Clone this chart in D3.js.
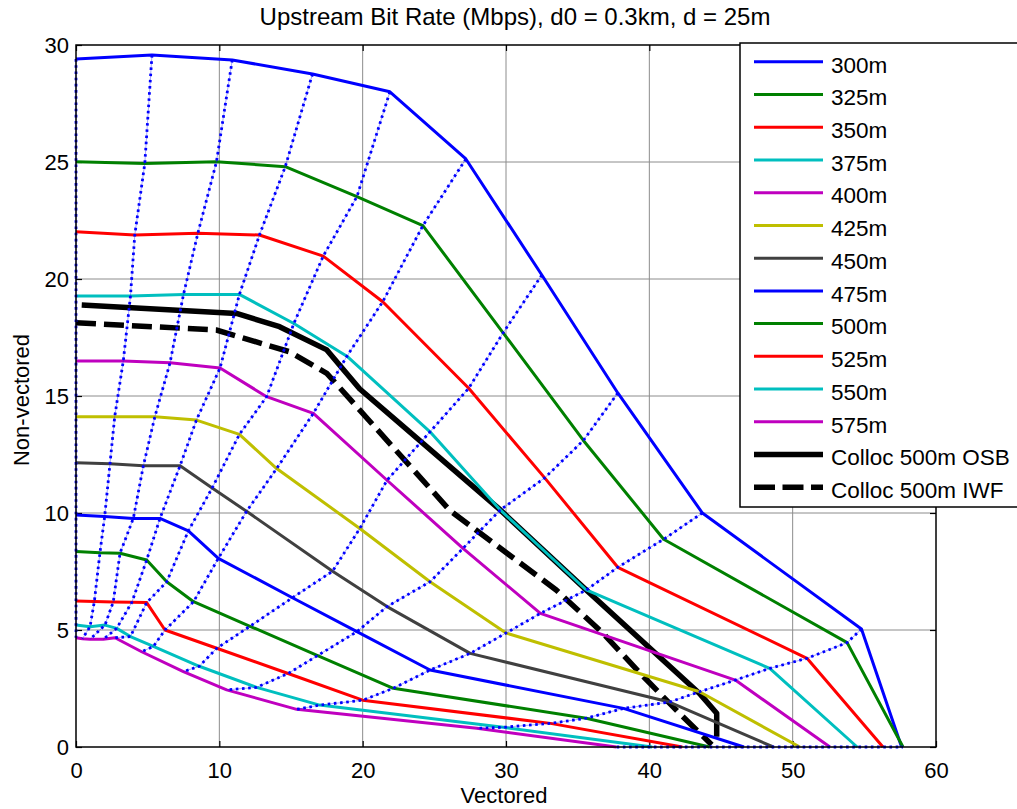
<!DOCTYPE html>
<html><head><meta charset="utf-8">
<script src="https://cdn.jsdelivr.net/npm/d3@7"></script>
<style>body{margin:0;background:#fff} text{font-family:"Liberation Sans",Arial,sans-serif;fill:#000}</style>
</head><body><svg id="c" width="1017" height="809"></svg>
<script>
const xTicks=[0,10,20,30,40,50,60];
const yTicks=[0,5,10,15,20,25,30];
const names=["300m","325m","350m","375m","400m","425m","450m","475m","500m","525m","550m","575m"];
const colors=["#0000ff","#008000","#ff0000","#00bfbf","#bf00bf","#bfbf00","#404040","#0000ff","#008000","#ff0000","#00bfbf","#bf00bf"];
const s300=[[0,29.4],[5.3,29.57],[10.9,29.36],[16.5,28.76],[21.9,28.0],[27.2,25.13],[32.5,20.17],[37.8,15.13],[43.7,10.0],[54.8,5.04],[57.6,0]];
const s325=[[0,25.01],[4.8,24.94],[9.8,25.01],[14.6,24.8],[19.6,23.52],[24.2,22.28],[29.8,17.7],[35.4,13.1],[41.0,8.88],[53.8,4.46],[57.7,0]];
const s350=[[0,22.02],[4.1,21.88],[8.5,21.95],[12.8,21.88],[17.25,20.98],[21.4,19.03],[27.4,15.33],[32.7,11.5],[37.8,7.68],[51.0,3.79],[56.3,0]];
const s375=[[0,19.27],[3.8,19.27],[7.5,19.34],[11.4,19.34],[15.2,18.1],[18.9,16.7],[24.7,13.47],[29.6,10.13],[35.6,6.71],[48.4,3.36],[54.5,0]];
const s400=[[0,16.5],[3.3,16.5],[6.56,16.42],[10.05,16.2],[13.3,14.97],[16.56,14.26],[21.7,11.4],[27.0,8.49],[32.4,5.71],[46.0,2.86],[52.6,0]];
const s425=[[0,14.11],[2.7,14.11],[5.5,14.11],[8.4,13.97],[11.4,13.36],[14.0,11.9],[19.8,9.34],[24.7,7.06],[30.0,4.87],[43.5,2.36],[50.5,0]];
const s450=[[0,12.15],[2.37,12.1],[4.7,12.02],[7.26,12.02],[9.5,11.07],[11.9,10.07],[17.9,7.51],[21.7,6.0],[27.5,4.0],[41.4,1.92],[48.65,0]];
const s475=[[0,9.91],[2.0,9.85],[4.0,9.77],[5.86,9.77],[7.84,9.24],[9.93,8.06],[15.1,6.38],[19.6,4.93],[24.7,3.29],[38.2,1.65],[46.6,0]];
const s500=[[0,8.35],[1.67,8.3],[3.07,8.28],[4.93,7.99],[6.33,7.06],[8.2,6.21],[12.14,5.16],[16.86,3.91],[22.14,2.51],[35.6,1.23],[44.2,0]];
const s525=[[0,6.24],[1.28,6.22],[2.6,6.2],[3.9,6.19],[4.93,6.17],[6.21,5.0],[9.82,4.22],[14.8,3.14],[20.0,2.0],[33.1,1.01],[42.3,0]];
const s550=[[0,5.21],[0.98,5.14],[2.02,5.21],[2.84,5.07],[3.8,4.72],[5.4,4.3],[8.6,3.45],[12.6,2.55],[17.0,1.79],[29.8,0.84],[40.2,0]];
const s575=[[0,4.67],[0.45,4.63],[0.98,4.6],[1.9,4.6],[2.72,4.67],[4.58,4.07],[7.49,3.22],[10.51,2.44],[15.4,1.61],[27.96,0.8],[37.7,0]];
const osb=[[0.4,18.89],[11.2,18.53],[14.2,17.96],[17.5,16.97],[19.8,15.3],[29.6,10.13],[35.6,6.71],[43.5,2.29],[44.7,1.44],[44.7,0.44]];
const iwf=[[0,18.13],[9.8,17.82],[14.9,16.89],[17.5,15.97],[19.5,14.6],[26.1,10.1],[33.5,6.71],[36.7,4.9],[39.6,3.0],[42.1,1.44],[44.35,0.1]];
const series=[s300,s325,s350,s375,s400,s425,s450,s475,s500,s525,s550,s575];
const legendNames=names.concat(["Colloc 500m OSB","Colloc 500m IWF"]);

const svg=d3.select('#c');
const x=d3.scaleLinear([0,60],[76,936]);
const y=d3.scaleLinear([0,30],[747,45]);
const line=d3.line().x(d=>x(d[0])).y(d=>y(d[1]));

svg.append('rect').attr('width',1017).attr('height',809).attr('fill','#fff');
// grid
const g=svg.append('g');
g.selectAll('line.gx').data(xTicks.slice(1,-1)).join('line')
 .attr('x1',d=>x(d)).attr('x2',d=>x(d)).attr('y1',y(0)).attr('y2',y(30))
 .attr('stroke','#8c8c8c').attr('stroke-width',1);
g.selectAll('line.gy').data(yTicks.slice(1,-1)).join('line')
 .attr('y1',d=>y(d)).attr('y2',d=>y(d)).attr('x1',x(0)).attr('x2',x(60))
 .attr('stroke','#8c8c8c').attr('stroke-width',1);
// axes with inward ticks
const fs=22;
const ax=svg.append('g').attr('transform',`translate(0,${y(0)})`).call(d3.axisBottom(x).tickValues(xTicks).tickSize(-6).tickFormat(d3.format('d')));
const axT=svg.append('g').attr('transform',`translate(0,${y(30)})`).call(d3.axisTop(x).tickValues(xTicks).tickSize(-6).tickFormat(''));
const ay=svg.append('g').attr('transform',`translate(${x(0)},0)`).call(d3.axisLeft(y).tickValues(yTicks).tickSize(-6).tickPadding(7).tickFormat(d3.format('d')));
const ayR=svg.append('g').attr('transform',`translate(${x(60)},0)`).call(d3.axisRight(y).tickValues(yTicks).tickSize(-6).tickFormat(''));
[ax,axT,ay,ayR].forEach(a=>{a.select('.domain').remove();a.selectAll('line').attr('stroke','#000').attr('stroke-width',1.2);a.selectAll('text').attr('font-size',fs).attr('font-family','"Liberation Sans",Arial,sans-serif');});
ax.selectAll('text').attr('dy',null).attr('y',31);

// black curves
svg.append('path').datum(osb).attr('d',line).attr('fill','none').attr('stroke','#000').attr('stroke-width',5.5).attr('stroke-linejoin','round');
svg.append('path').datum(iwf).attr('d',line).attr('fill','none').attr('stroke','#000').attr('stroke-width',5.5).attr('stroke-dasharray','20,8');
// colored curves
svg.append('g').selectAll('path').data(series).join('path')
 .attr('d',line).attr('fill','none').attr('stroke',(d,i)=>colors[i]).attr('stroke-width',3).attr('stroke-linejoin','round');
// dotted iso lines
const iso=d3.range(s300.length).map(i=>series.map(s=>s[i]));
const dg=svg.append('g');
dg.selectAll('path.f').data(iso).join('path').attr('d',line).attr('fill','none').attr('stroke','#0000ff').attr('stroke-opacity',0.35).attr('stroke-width',1);
dg.selectAll('path.d').data(iso).join('path').attr('d',line).attr('fill','none').attr('stroke','#0000ff').attr('stroke-width',2.8).attr('stroke-dasharray','2.6,3.6');
// axis box on top
svg.append('rect').attr('x',x(0)).attr('y',y(30)).attr('width',x(60)-x(0)).attr('height',y(0)-y(30))
 .attr('fill','none').attr('stroke','#000').attr('stroke-width',1.5);

// title and labels
svg.append('text').attr('x',515).attr('y',25).attr('text-anchor','middle').attr('font-size',24).text('Upstream Bit Rate (Mbps), d0 = 0.3km, d = 25m');
svg.append('text').attr('x',504).attr('y',803).attr('text-anchor','middle').attr('font-size',fs).text('Vectored');
svg.append('text').attr('transform','translate(29,400) rotate(-90)').attr('text-anchor','middle').attr('font-size',fs).text('Non-vectored');

// legend
const lg=svg.append('g');
lg.append('rect').attr('x',740).attr('y',43).attr('width',300).attr('height',464).attr('fill','#fff').attr('stroke','#000').attr('stroke-width',1.5);
legendNames.forEach((n,i)=>{
  const yy=61.7+i*32.74;
  const l=lg.append('line').attr('x1',754).attr('x2',823).attr('y1',yy).attr('y2',yy);
  if(i<12) l.attr('stroke',colors[i]).attr('stroke-width',3);
  else { l.attr('stroke','#000').attr('stroke-width',5.5); if(i===13) l.attr('stroke-dasharray','21,7.5'); }
  lg.append('text').attr('x',831).attr('y',yy+10.8).attr('font-size',22.5).text(n);
});
</script></body></html>
